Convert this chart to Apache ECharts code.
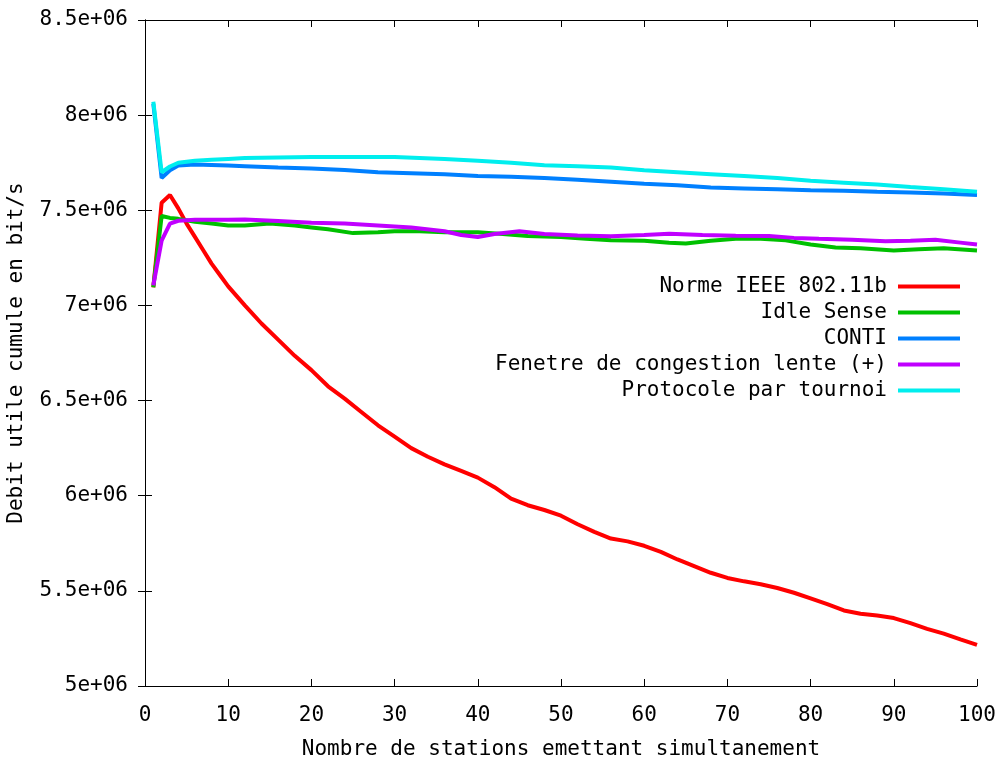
<!DOCTYPE html>
<html>
<head>
<meta charset="utf-8">
<script src="https://cdn.jsdelivr.net/npm/echarts@6/dist/echarts.min.js"></script>
<style>
  html, body { margin: 0; padding: 0; background: #fff; }
  #chart { width: 995px; height: 766px; }
</style>
</head>
<body>
<div id="chart"></div>
<script>
const seriesNames = [
  'Norme IEEE 802.11b',
  'Idle Sense',
  'CONTI',
  'Fenetre de congestion lente (+)',
  'Protocole par tournoi'
]

const colors = ['#ff0000', '#00c000', '#0080ff', '#c000ff', '#00eeee']

// [stations, debit en Mbit/s]
const ieee = [
  [1, 7.095], [2, 7.54], [3, 7.58], [4, 7.51], [5, 7.43], [6, 7.36], [7, 7.29], [8, 7.22],
  [9, 7.16], [10, 7.1], [12, 7.0], [14, 6.905], [16, 6.82], [18, 6.735], [20, 6.66],
  [22, 6.575], [24, 6.51], [26, 6.44], [28, 6.37], [30, 6.31], [32, 6.25], [34, 6.205],
  [36, 6.165], [38, 6.13], [40, 6.095], [42, 6.045], [44, 5.985], [46, 5.95], [48, 5.925],
  [50, 5.895], [52, 5.85], [54, 5.81], [56, 5.775], [58, 5.76], [60, 5.737], [62, 5.705],
  [64, 5.665], [66, 5.63], [68, 5.595], [70, 5.568], [72, 5.55], [74, 5.535], [76, 5.515],
  [78, 5.49], [80, 5.46], [82, 5.43], [84, 5.397], [86, 5.38], [88, 5.37], [90, 5.357],
  [92, 5.33], [94, 5.3], [96, 5.275], [98, 5.245], [100, 5.216]
]

const idleSense = [
  [1, 7.095], [2, 7.47], [3, 7.46], [4, 7.455], [6, 7.44], [8, 7.43], [10, 7.42], [12, 7.42],
  [15, 7.43], [18, 7.42], [20, 7.41], [22, 7.4], [25, 7.38], [28, 7.385], [30, 7.39],
  [33, 7.39], [36, 7.385], [40, 7.385], [43, 7.375], [46, 7.365], [50, 7.36], [53, 7.35],
  [56, 7.342], [60, 7.34], [63, 7.33], [65, 7.325], [68, 7.34], [71, 7.351], [74, 7.35],
  [77, 7.342], [80, 7.32], [83, 7.305], [86, 7.3], [90, 7.289], [93, 7.295], [96, 7.3],
  [100, 7.289]
]

const conti = [
  [1, 8.06], [2, 7.67], [3, 7.71], [4, 7.735], [6, 7.74], [8, 7.738], [10, 7.735],
  [12, 7.732], [16, 7.725], [20, 7.72], [24, 7.712], [28, 7.7], [32, 7.695], [36, 7.69],
  [40, 7.68], [44, 7.676], [48, 7.67], [52, 7.66], [56, 7.65], [60, 7.64], [64, 7.632],
  [68, 7.62], [72, 7.615], [76, 7.61], [80, 7.605], [84, 7.603], [88, 7.598], [92, 7.594],
  [96, 7.588], [100, 7.58]
]

const fenetreLente = [
  [1, 7.105], [2, 7.34], [3, 7.43], [4, 7.445], [6, 7.45], [8, 7.45], [10, 7.45],
  [12, 7.451], [14, 7.448], [16, 7.444], [20, 7.435], [24, 7.43], [28, 7.42], [32, 7.41],
  [36, 7.39], [38, 7.37], [40, 7.36], [42, 7.375], [45, 7.39], [48, 7.375], [52, 7.368],
  [56, 7.363], [60, 7.37], [63, 7.377], [67, 7.37], [71, 7.366], [75, 7.365], [78, 7.355],
  [81, 7.35], [85, 7.345], [89, 7.337], [92, 7.34], [95, 7.345], [98, 7.33], [100, 7.32]
]

const tournoi = [
  [1, 8.07], [2, 7.7], [3, 7.73], [4, 7.75], [6, 7.76], [8, 7.765], [10, 7.77], [12, 7.775],
  [16, 7.778], [20, 7.78], [25, 7.78], [30, 7.78], [33, 7.775], [36, 7.77], [40, 7.76],
  [44, 7.75], [48, 7.737], [52, 7.732], [56, 7.725], [60, 7.71], [64, 7.7], [68, 7.69],
  [72, 7.68], [76, 7.67], [80, 7.655], [84, 7.645], [88, 7.635], [92, 7.622], [96, 7.61],
  [100, 7.597]
]

const allData = [ieee, idleSense, conti, fenetreLente, tournoi]

const FONT = 'DejaVu Sans Mono'
const FS = 21

function fmtY(v) {
  return (v / 1e6) + 'e+06'
}

const chart = echarts.init(document.getElementById('chart'))

const series = seriesNames.map((name, i) => ({
  name,
  type: 'line',
  showSymbol: false,
  animation: false,
  lineStyle: { width: 4, color: colors[i] },
  itemStyle: { color: colors[i] },
  data: allData[i].map(p => [p[0], p[1] * 1e6])
}))

const tickStyle = { inside: true, length: 7, lineStyle: { color: '#000' } }
const lineStyle = { show: true, lineStyle: { color: '#000', width: 1 } }

chart.setOption({
  backgroundColor: '#fff',
  textStyle: { fontFamily: FONT },
  grid: { left: 145, right: 18, top: 20, bottom: 80, outerBoundsMode: 'none', containLabel: false },
  legend: {
    orient: 'vertical',
    right: 30,
    top: 271,
    align: 'right',
    itemWidth: 62,
    itemHeight: 4,
    itemGap: 5,
    icon: 'rect',
    textStyle: { fontFamily: FONT, fontSize: FS, color: '#000', lineHeight: 20, padding: [0, 6, 0, 0] },
    data: seriesNames
  },
  xAxis: [{
    type: 'value',
    min: 0,
    max: 100,
    interval: 10,
    name: 'Nombre de stations emettant simultanement',
    nameLocation: 'middle',
    nameGap: 53,
    nameTextStyle: { fontFamily: FONT, fontSize: FS, color: '#000' },
    axisLine: lineStyle,
    axisTick: tickStyle,
    axisLabel: { fontFamily: FONT, fontSize: FS, color: '#000', margin: 19 },
    splitLine: { show: false }
  }, {
    type: 'value',
    position: 'top',
    min: 0,
    max: 100,
    interval: 10,
    axisLine: lineStyle,
    axisTick: tickStyle,
    axisLabel: { show: false },
    splitLine: { show: false }
  }],
  yAxis: [{
    type: 'value',
    min: 5e6,
    max: 8.5e6,
    interval: 5e5,
    name: 'Debit utile cumule en bit/s',
    nameLocation: 'middle',
    nameGap: 118,
    nameTextStyle: { fontFamily: FONT, fontSize: FS, color: '#000' },
    axisLine: lineStyle,
    axisTick: tickStyle,
    axisLabel: { fontFamily: FONT, fontSize: FS, color: '#000', margin: 17, formatter: fmtY },
    splitLine: { show: false }
  }, {
    type: 'value',
    position: 'right',
    min: 5e6,
    max: 8.5e6,
    interval: 5e5,
    axisLine: lineStyle,
    axisTick: tickStyle,
    axisLabel: { show: false },
    splitLine: { show: false }
  }],
  series
})
</script>
</body>
</html>
